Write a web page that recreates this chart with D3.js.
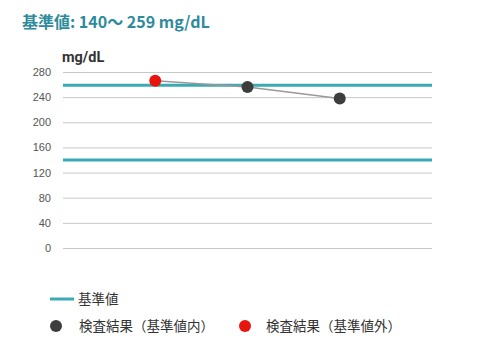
<!DOCTYPE html>
<html lang="ja">
<head>
<meta charset="utf-8">
<title>基準値</title>
<script src="https://cdn.jsdelivr.net/npm/d3@7"></script>
<style>
  body { margin: 0; background: #fff; }
  svg { display: block; font-family: "Noto Sans CJK JP", "Noto Sans", sans-serif; }
</style>
</head>
<body>
<script>
// データ
var dates = ["1", "2", "3"];
var values = [266, 256, 238];
var refLow = 140;
var refHigh = 259;
var yTicks = [0, 40, 80, 120, 160, 200, 240, 280];

var width = 488, height = 360;
var mLeft = 63, mRight = 432, mTop = 72, mBottom = 248;

var svg = d3.select("body").append("svg")
  .attr("width", width)
  .attr("height", height);

// タイトル
svg.append("text")
  .attr("x", 22).attr("y", 28)
  .attr("font-size", 16).attr("font-weight", "bold")
  .attr("fill", "#2e8b9b")
  .text("基準値: " + refLow + "〜 " + refHigh + " mg/dL");

svg.append("text")
  .attr("x", 62).attr("y", 62)
  .attr("font-size", 14.5).attr("font-weight", "bold")
  .attr("font-family", "Roboto, 'Liberation Sans', sans-serif")
  .attr("fill", "#333")
  .text("mg/dL");

var x = d3.scaleLinear().domain([0, dates.length + 1]).range([mLeft, mRight]);
var y = d3.scaleLinear().domain([0, 280]).range([mBottom, mTop]);

// グリッド + 目盛り
var yAxis = d3.axisLeft(y).tickValues(yTicks).tickSize(-(mRight - mLeft)).tickPadding(12);
var g = svg.append("g").attr("transform", "translate(" + mLeft + ",0)").call(yAxis);
g.select(".domain").remove();
g.selectAll(".tick line").attr("stroke", "#c8c8c8");
g.selectAll(".tick text")
  .attr("fill", "#555").attr("font-size", 11)
  .attr("font-family", "'Liberation Sans', Arial, sans-serif");

// 基準値ライン
[refLow, refHigh].forEach(function(v){
  svg.append("line")
    .attr("x1", mLeft).attr("x2", mRight)
    .attr("y1", y(v)).attr("y2", y(v))
    .attr("stroke", "#3aabb2").attr("stroke-width", 3);
});

// 折れ線
var line = d3.line()
  .x(function(d, i){ return x(i + 1); })
  .y(function(d){ return y(d); });
svg.append("path")
  .datum(values)
  .attr("d", line)
  .attr("fill", "none")
  .attr("stroke", "#999").attr("stroke-width", 1.5);

svg.selectAll("circle.pt")
  .data(values)
  .enter().append("circle")
  .attr("class", "pt")
  .attr("cx", function(d, i){ return x(i + 1); })
  .attr("cy", function(d){ return y(d); })
  .attr("r", 6)
  .attr("fill", function(d){ return (d < refLow || d > refHigh) ? "#e8150f" : "#3d3d3d"; });

// 凡例
var lg = svg.append("g").attr("font-size", 13.5).attr("fill", "#333");
lg.append("line")
  .attr("x1", 50).attr("x2", 74).attr("y1", 299).attr("y2", 299)
  .attr("stroke", "#3aabb2").attr("stroke-width", 3);
lg.append("text").attr("x", 78).attr("y", 304).attr("fill", "#333").text("基準値");
lg.append("circle").attr("cx", 56).attr("cy", 326).attr("r", 6).attr("fill", "#3d3d3d");
lg.append("text").attr("x", 79).attr("y", 331).attr("fill", "#333").text("検査結果（基準値内）");
lg.append("circle").attr("cx", 245).attr("cy", 326).attr("r", 6).attr("fill", "#e8150f");
lg.append("text").attr("x", 266).attr("y", 331).attr("fill", "#333").text("検査結果（基準値外）");
</script>
</body>
</html>
